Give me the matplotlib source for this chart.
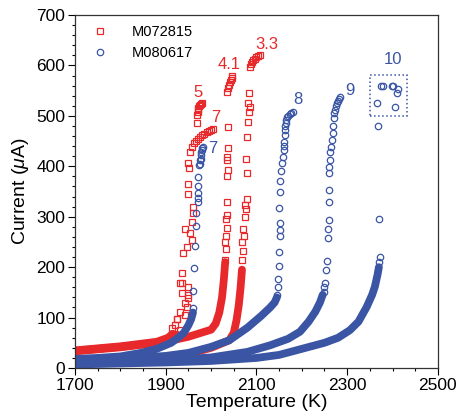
import numpy as np
import matplotlib
matplotlib.use('Agg')
import matplotlib.pyplot as plt
from matplotlib.patches import Rectangle
from matplotlib.ticker import MultipleLocator

plt.rcParams['font.family'] = ['Liberation Sans', 'DejaVu Sans']
plt.rcParams['mathtext.fontset'] = 'custom'
plt.rcParams['mathtext.it'] = 'Liberation Sans:italic'
plt.rcParams['mathtext.rm'] = 'Liberation Sans'

RED = '#e8292c'
BLUE = '#3a55a4'

# ---- M072815 (red squares) ----
# dense (overlapping) parts of each run, read along the band centre
r5_dense_T = [1700, 1800, 1880, 1905, 1915]
r5_dense_I = [35, 43, 52, 60, 68]
r7_dense_T = [1700, 1800, 1880, 1910, 1925]
r7_dense_I = [33, 41, 50, 58, 66]
r41_dense_T = [1700, 1750, 1800, 1850, 1900, 1950, 2000, 2010, 2018, 2024, 2028, 2031]
r41_dense_I = [34, 38, 42, 47, 52, 62, 76, 88, 110, 140, 175, 210]
r33_dense_T = [1700, 1800, 1880, 1950, 2000, 2040, 2050, 2056, 2061, 2065, 2068]
r33_dense_I = [10, 13, 18, 28, 40, 55, 70, 95, 125, 160, 195]

# sparse (single) points
r5_T = [1914, 1920, 1925, 1931, 1936, 1938, 1942, 1947, 1949, 1949, 1951, 1953, 1958,
        1969, 1969, 1970, 1971, 1972, 1974, 1976, 1978, 1980, 1931, 1949, 1949]
r5_I = [79, 85, 97, 111, 149, 228, 276, 240, 345, 407, 397, 429, 439,
        486, 502, 508, 512, 516, 519, 522, 524, 526, 168, 161, 145]
r7_T = [1931, 1942, 1936, 1936, 1949, 1953, 1958, 1958, 1960, 1960, 1949, 1963, 1967,
        1971, 1975, 1980, 1985, 1990, 1995, 2000, 2004, 1947, 1942, 1925]
r7_I = [75, 129, 169, 189, 139, 268, 254, 290, 307, 320, 365, 446, 451,
        455, 459, 462, 465, 468, 470, 472, 474, 121, 105, 97]
r41_T = [2030, 2032, 2031, 2033, 2034, 2033, 2034, 2035, 2036, 2037, 2036, 2036, 2037, 2037,
         2036, 2038, 2039, 2041, 2043, 2045, 2046]
r41_I = [215, 235, 250, 262, 278, 295, 303, 330, 380, 393, 413, 419, 436, 478,
         548, 555, 562, 568, 572, 576, 580]
r33_T = [2068, 2070, 2068, 2072, 2070, 2074, 2076, 2075, 2079, 2079, 2077, 2080, 2082, 2084,
         2085, 2082, 2083, 2086, 2088, 2090, 2093, 2096, 2100, 2104, 2108]
r33_I = [215, 232, 250, 262, 275, 300, 315, 323, 335, 387, 414, 458, 488, 508,
         518, 525, 545, 597, 603, 607, 610, 613, 616, 618, 620]

# ---- M080617 (blue circles) ----
b7_dense_T = [1700, 1750, 1800, 1845, 1880, 1912, 1930, 1940, 1950, 1956, 1960]
b7_dense_I = [18, 20, 23, 30, 38, 50, 62, 70, 85, 97, 110]
b8_dense_T = [1700, 1800, 1900, 1950, 2000, 2040, 2080, 2110, 2130, 2140, 2145]
b8_dense_I = [14, 18, 24, 30, 42, 55, 80, 103, 120, 130, 140]
b9_dense_T = [1700, 1800, 1900, 2000, 2080, 2130, 2170, 2196, 2215, 2230, 2240, 2246]
b9_dense_I = [10, 12, 15, 21, 32, 45, 58, 72, 92, 112, 130, 145]
b10_dense_T = [1700, 1800, 1900, 2000, 2100, 2150, 2200, 2250, 2280, 2306, 2325, 2343,
               2355, 2361, 2367, 2370]
b10_dense_I = [7, 9, 11, 14, 20, 26, 38, 50, 60, 75, 92, 121, 145, 161, 185, 200]

b7_T = [1960, 1960, 1962, 1964, 1966, 1967, 1970, 1971, 1971, 1971, 1972, 1974, 1975,
        1976, 1977, 1977, 1978, 1979, 1980, 1981]
b7_I = [119, 153, 198, 242, 282, 307, 329, 337, 347, 361, 379, 403, 413,
        405, 415, 422, 428, 433, 436, 438]
b8_T = [2145, 2147, 2147, 2149, 2150, 2151, 2152, 2152, 2150, 2152, 2152, 2154, 2156, 2158,
        2160, 2160, 2160, 2162, 2163, 2164, 2165, 2166, 2168, 2170, 2173, 2176, 2180]
b8_I = [145, 160, 177, 202, 230, 262, 274, 288, 317, 349, 371, 391, 407, 419,
        432, 440, 448, 462, 472, 480, 486, 492, 497, 500, 503, 506, 508]
b9_T = [2248, 2249, 2251, 2253, 2255, 2257, 2257, 2259, 2259, 2259, 2259, 2261, 2262, 2262,
        2264, 2266, 2268, 2269, 2270, 2271, 2273, 2275, 2277, 2279, 2281, 2284]
b9_I = [151, 160, 169, 194, 212, 258, 276, 294, 329, 353, 387, 399, 413, 429,
        438, 452, 466, 480, 495, 506, 512, 520, 526, 530, 534, 538]
b10_T = [2371, 2372, 2370, 2368, 2365, 2374, 2379, 2399, 2401, 2412, 2410, 2405]
b10_I = [210, 220, 296, 480, 526, 560, 560, 560, 560, 553, 546, 518]

# curve labels: (text, T, I)
labels_red = [('5', 1971, 546), ('7', 2011, 496), ('4.1', 2039, 601), ('3.3', 2123, 641)]
labels_blue = [('7', 2004, 435), ('8', 2191, 532), ('9', 2306, 551), ('10', 2401, 611)]

x_ticks = [1700, 1900, 2100, 2300, 2500]

fig = plt.figure(figsize=(4.58, 4.19), dpi=100)
ax = fig.add_axes([0.164, 0.1217, 0.792, 0.8425])

band_lw = 5.6
sq = dict(marker='s', ls='none', ms=5.0, mfc='none', mew=0.9)
ci = dict(marker='o', ls='none', ms=4.6, mfc='none', mew=0.9)

for T, I in [(r5_dense_T, r5_dense_I), (r7_dense_T, r7_dense_I),
             (r41_dense_T, r41_dense_I), (r33_dense_T, r33_dense_I)]:
    ax.plot(T, I, color=RED, lw=band_lw, solid_capstyle='round', solid_joinstyle='round')
for T, I in [(r5_T, r5_I), (r7_T, r7_I), (r41_T, r41_I), (r33_T, r33_I)]:
    ax.plot(T, I, color=RED, mec=RED, **sq)

for T, I in [(b10_dense_T, b10_dense_I), (b9_dense_T, b9_dense_I),
             (b8_dense_T, b8_dense_I), (b7_dense_T, b7_dense_I)]:
    ax.plot(T, I, color=BLUE, lw=band_lw, solid_capstyle='round', solid_joinstyle='round')
for T, I in [(b7_T, b7_I), (b8_T, b8_I), (b9_T, b9_I), (b10_T, b10_I)]:
    ax.plot(T, I, color=BLUE, mec=BLUE, **ci)

for txt, x, y in labels_red:
    ax.text(x, y, txt, color=RED, fontsize=12, ha='center', va='center')
for txt, x, y in labels_blue:
    ax.text(x, y, txt, color=BLUE, fontsize=12, ha='center', va='center')

# dotted box around the scattered points of run "10"
ax.add_patch(Rectangle((2350, 500), 82, 81, fill=False, ec=BLUE, ls=':', lw=1.1))

# legend
h1, = ax.plot([], [], color=RED, mec=RED, **sq)
h2, = ax.plot([], [], color=BLUE, mec=BLUE, **ci)
ax.legend([h1, h2], ['M072815', 'M080617'], loc='upper left', frameon=False,
          fontsize=10.5, handletextpad=1.2, borderaxespad=0.3, labelspacing=0.45,
          bbox_to_anchor=(0.0, 1.0))

ax.set_xlim(1700, 2500)
ax.set_ylim(0, 700)
ax.set_xticks(x_ticks)
ax.xaxis.set_minor_locator(MultipleLocator(50))
ax.yaxis.set_major_locator(MultipleLocator(100))
ax.yaxis.set_minor_locator(MultipleLocator(20))
ax.tick_params(which='both', direction='out', top=False, right=False, labelsize=12.5,
               width=0.8, pad=2)
ax.tick_params(which='major', length=5)
ax.tick_params(which='minor', length=2.5)
for s in ax.spines.values():
    s.set_linewidth(0.9)
    s.set_color('#333333')

ax.set_xlabel('Temperature (K)', fontsize=14, labelpad=1)
ax.set_ylabel(r'Current ($\mu$A)', fontsize=14, labelpad=4)

fig.savefig('out.png', dpi=100)
